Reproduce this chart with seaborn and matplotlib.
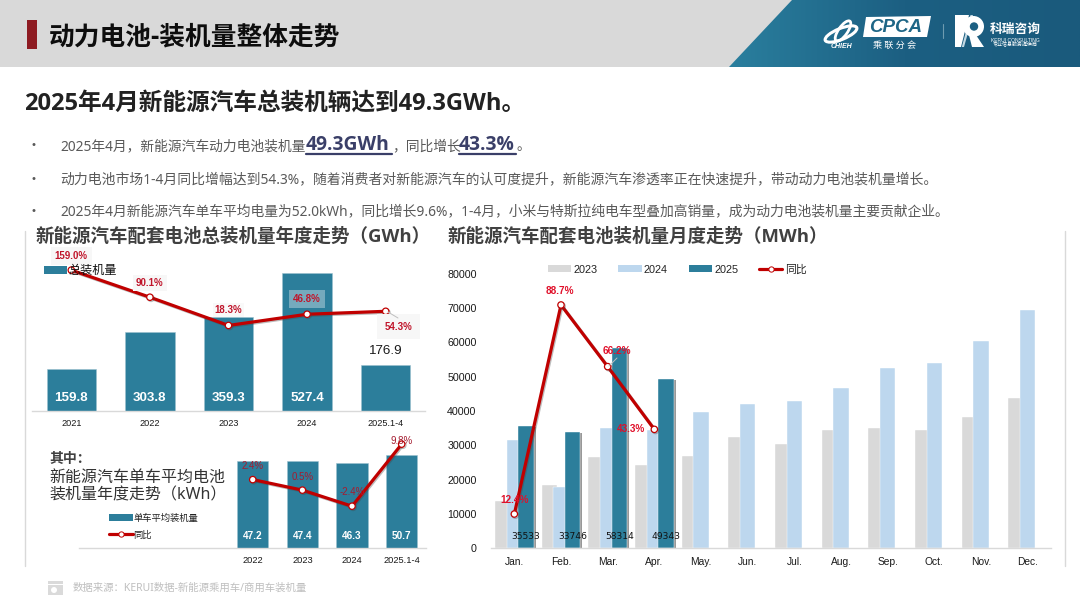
import numpy as np
import pandas as pd
import matplotlib
matplotlib.use("Agg")
import matplotlib.pyplot as plt
import matplotlib.patheffects as pe
from matplotlib.lines import Line2D
from matplotlib.patches import Patch, Polygon, Rectangle, Ellipse, Circle
import seaborn as sns

W, H = 1080, 599

# ---------- data ----------
year_cats = ["2021", "2022", "2023", "2024", "2025.1-4"]
year_install = [159.8, 303.8, 359.3, 527.4, 176.9]
year_yoy = [159.0, 90.1, 18.3, 46.8, 54.3]

kwh_cats = ["2022", "2023", "2024", "2025.1-4"]
kwh_values = [47.2, 47.4, 46.3, 50.7]
kwh_yoy = [2.4, 0.5, -2.4, 8.8]
kwh_yoy_labels = ["2.4%", "0.5%", "-2.4%", "9.8%"]

months = ["Jan.", "Feb.", "Mar.", "Apr.", "May.", "Jun.", "Jul.", "Aug.", "Sep.", "Oct.", "Nov.", "Dec."]
m2023 = [13700, 18300, 26700, 24300, 26900, 32500, 30300, 34400, 34900, 34400, 38200, 43900]
m2024 = [31500, 17800, 35000, 34500, 39800, 42000, 42800, 46800, 52500, 54000, 60300, 69500]
m2025 = [35533, 33746, 58314, 49343, np.nan, np.nan, np.nan, np.nan, np.nan, np.nan, np.nan, np.nan]
m_yoy = [12.4, 88.7, 66.2, 43.3]

# ---------- style ----------
sns.set_theme(style="white")
LATIN = ["Liberation Sans", "Noto Sans CJK SC", "DejaVu Sans"]
CJK = ["Noto Sans", "Noto Sans CJK SC", "DejaVu Sans"]
BOLD = ["Open Sans", "Noto Sans CJK SC", "DejaVu Sans"]
NARROW = ["Liberation Sans Narrow", "Liberation Sans"]
plt.rcParams["font.family"] = LATIN

TEAL = "#2C7E9B"
LBLUE = "#BDD7EE"
GREY = "#D9D9D9"
RED = "#C00000"
AXC = "#D9D9D9"

fig = plt.figure(figsize=(W / 100, H / 100), dpi=100, facecolor="white")


def axpx(l, t, r, b, **kw):
    return fig.add_axes([l / W, 1 - b / H, (r - l) / W, (b - t) / H], **kw)


def clean(ax, ticksize, pad):
    sns.despine(ax=ax, left=True)
    ax.spines["bottom"].set_color(AXC)
    ax.spines["bottom"].set_linewidth(1)
    ax.set_xlabel("")
    ax.set_ylabel("")
    ax.set_yticks([])
    ax.tick_params(axis="x", length=0, labelsize=ticksize, pad=pad, colors="#1a1a1a")
    ax.patch.set_alpha(0)


def trend(ax, yvals, ms=4.6):
    sns.lineplot(x=np.arange(len(yvals)), y=yvals, ax=ax, color=RED, linewidth=2.3,
                 marker="o", markersize=ms, markerfacecolor="white", markeredgecolor=RED,
                 markeredgewidth=0.9, errorbar=None, legend=False, sort=False)
    ax.lines[-1].set_path_effects([pe.SimpleLineShadow(offset=(0.8, -0.8), alpha=0.35, shadow_color="#444444"),
                                   pe.Normal()])
    ax.set_xlabel("")
    ax.set_ylabel("")
    ax.set_yticks([])
    ax.patch.set_alpha(0)
    for s in ax.spines.values():
        s.set_visible(False)


# ---------- page overlay ----------
bg = axpx(0, 0, W, H)
bg.set_xlim(0, W)
bg.set_ylim(H, 0)
bg.axis("off")
bg.set_zorder(0)
bg.add_patch(Rectangle((0, 0), W, 67, color="#D9D9D9", lw=0))
grad = np.linspace(0, 1, 256).reshape(1, -1)
cmap = matplotlib.colors.LinearSegmentedColormap.from_list("h", ["#2A7F9E", "#1C5F82", "#1A5A7C"])
im = bg.imshow(grad, extent=(729, 1080, 67, 0), aspect="auto", cmap=cmap, zorder=1)
clip = Polygon([(729, 67), (792, 0), (1080, 0), (1080, 67)], closed=True, transform=bg.transData, fc="none", ec="none")
bg.add_patch(clip)
im.set_clip_path(clip)
bg.set_xlim(0, W)
bg.set_ylim(H, 0)
bg.add_patch(Rectangle((27, 20), 9.5, 29, color="#8E1B22", lw=0))
bg.plot([24.5, 24.5], [231, 566], color="#D9D9D9", lw=1)
bg.plot([1065.3, 1065.3], [231, 566], color="#D9D9D9", lw=1)

top = axpx(0, 0, W, H)
top.set_xlim(0, W)
top.set_ylim(H, 0)
top.axis("off")
top.set_zorder(20)
top.patch.set_alpha(0)


def T(x, y, s, size, color="#000000", weight="normal", ha="left", family=CJK, **kw):
    return top.text(x, y + 1.5, s, fontsize=size, color=color, fontweight=weight, ha=ha, va="center", family=family, **kw)


T(49, 36, "动力电池-装机量整体走势", 18.5, "#0D0D0D", "bold", family=BOLD)
T(24, 102, "2025年4月新能源汽车总装机辆达到49.3GWh。", 17.05, "#222222", "bold", family=BOLD)

BODY = "#595959"
EMPH = "#3A3F68"
for y in (145, 178, 210):
    T(34, y - 1, "•", 8, BODY, ha="center", family=["Liberation Sans"])
T(60, 145, "2025年4月，新能源汽车动力电池装机量", 9.92, BODY)
T(306, 143, "49.3GWh", 13.9, EMPH, "bold", family=BOLD)
T(392, 145, "，同比增长", 9.92, BODY)
T(459, 143, "43.3%", 13.9, EMPH, "bold", family=BOLD)
T(516, 145, "。", 9.92, BODY)
top.plot([306, 392], [154, 154], color=EMPH, lw=1.6)
top.plot([459, 516], [154, 154], color=EMPH, lw=1.6)
T(60, 178, "动力电池市场1-4月同比增幅达到54.3%，随着消费者对新能源汽车的认可度提升，新能源汽车渗透率正在快速提升，带动动力电池装机量增长。", 9.97, BODY)
T(60, 210, "2025年4月新能源汽车单车平均电量为52.0kWh，同比增长9.6%，1-4月，小米与特斯拉纯电车型叠加高销量，成为动力电池装机量主要贡献企业。", 9.95, BODY)

T(36, 235, "新能源汽车配套电池总装机量年度走势（GWh）", 13.3, "#404040", "bold", family=BOLD)
T(448, 235, "新能源汽车配套电池装机量月度走势（MWh）", 13.3, "#404040", "bold", family=BOLD)

T(49, 457, "其中：", 10, "#404040", "bold", family=BOLD)
T(49, 476, "新能源汽车单车平均电池", 11.5, "#333333")
T(49, 494, "装机量年度走势（kWh）", 11.5, "#333333")

# footer
top.add_patch(Rectangle((48, 581), 15, 14, color="#DADADA", lw=0))
top.add_patch(Ellipse((54, 590), 6, 6, color="white", lw=0))
top.add_patch(Rectangle((48, 583.5), 15, 1, color="white", lw=0))
T(73, 586.5, "数据来源：KERUI数据-新能源乘用车/商用车装机量", 7.5, "#BFBFBF")

# logo
top.add_patch(Polygon([(866, 17), (931, 16), (927, 37), (863, 37)], closed=True, fc="white", ec="none"))
T(896, 26, "CPCA", 13.5, "#1E6686", "bold", ha="center", family=["Liberation Sans"], style="italic")
T(895, 43.5, "乘 联 分 会", 6.5, "white", ha="center")
top.add_patch(Ellipse((841, 34), 34, 11, angle=-22, fc="none", ec="white", lw=2.2))
top.add_patch(Ellipse((843, 31), 9, 24, angle=35, fc="none", ec="white", lw=2))
T(841, 44.5, "CHIEH", 5, "white", "bold", ha="center", family=["Liberation Sans"], style="italic")
top.plot([942.5, 942.5], [24, 38], color="#6E9BB0", lw=0.8)
top.add_patch(Polygon([(955, 15), (969, 15), (961, 47), (955, 47)], closed=True, fc="white", ec="none"))
top.add_patch(Polygon([(970.5, 15), (973, 15), (964, 47), (961.8, 47)], closed=True, fc="#C4D9E4", ec="none"))
top.add_patch(Circle((973.5, 26.5), 10.5, fc="white", ec="none"))
top.add_patch(Circle((974, 26.5), 4.2, fc="#1C6082", ec="none"))
top.add_patch(Polygon([(969, 35), (976, 35), (984, 47), (972, 47)], closed=True, fc="white", ec="none"))
T(1015, 28, "科瑞咨询", 9.2, "white", "bold", ha="center", family=BOLD)
T(1015, 38.5, "KERUI CONSULTING", 3.6, "white", ha="center", family=["Liberation Sans"])
T(1015, 43.5, "专业信息服务提供商", 3.6, "white", ha="center")

# ---------- annual chart ----------
a1 = axpx(32, 254, 425, 411.3)
a1.set_zorder(5)
sns.barplot(x=year_cats, y=year_install, ax=a1, color=TEAL, saturation=1, width=0.627,
            edgecolor="#9CC0CE", linewidth=0.4)
a1.set_ylim(0, 600)
clean(a1, 6.6, 5.5)
for i, v in enumerate(year_install[:4]):
    a1.annotate(f"{v}", (i, 0), xytext=(0, 9.7), textcoords="offset points", ha="center", va="center",
                color="white", fontsize=9.6, fontweight="bold")
a1.annotate(f"{year_install[4]}", (4, year_install[4]), xytext=(0, 10), textcoords="offset points", ha="center",
            va="center", color="#1a1a1a", fontsize=9.6)

a1b = a1.twinx()
a1b.set_zorder(6)
trend(a1b, year_yoy)
a1b.set_ylim(-200, 200)
a1.set_xlim(-0.5, 4.5)
a1b.set_xlim(-0.5, 4.5)
year_off = [(0, 10), (0, 10.5), (0, 11), (0, 11), (9, -11)]
year_bg = [("#F7F7F7", 1, 0.4), ("#F7F7F7", 1, 0.3), ("#F7F7F7", 0.7, 0.2), ("#FFFFFF", 0.35, 0.45), ("#F7F7F7", 1, 0.8)]
for i, v in enumerate(year_yoy):
    fc, al, pad = year_bg[i]
    a1b.annotate(f"{v:.1f}%", (i, v), xytext=year_off[i], textcoords="offset points", ha="center", va="center",
                 color="#C0142A", fontsize=7, family=NARROW, fontweight="bold",
                 bbox=dict(boxstyle=f"square,pad={pad}", fc=fc, ec="none", alpha=al), zorder=4)
top.plot([388, 398], [312, 318], color="#BFBFBF", lw=0.7)

leg1 = top.legend(handles=[Patch(fc=TEAL, ec="none", label="总装机量")], loc="center left",
                  bbox_to_anchor=(44 / W, 1 - 270.7 / H), bbox_transform=fig.transFigure, frameon=False,
                  prop={"family": CJK, "size": 8.7}, handlelength=1.9, handleheight=0.55,
                  handletextpad=0.15, borderpad=0, borderaxespad=0, labelcolor="#111111")
top.add_artist(leg1)

# ---------- kWh chart ----------
a2 = axpx(79, 437.5, 426.5, 548.3)
a2.set_zorder(5)
sns.barplot(x=kwh_cats, y=kwh_values, ax=a2, color=TEAL, saturation=1, width=0.63,
            edgecolor="#9CC0CE", linewidth=0.4)
a2.set_ylim(0, 60)
a2.set_xlim(-3.5, 3.5)
clean(a2, 6.7, 5.5)
for i, v in enumerate(kwh_values):
    a2.annotate(f"{v}", (i, 0), xytext=(0, 9), textcoords="offset points", ha="center", va="center",
                color="white", fontsize=7.2, fontweight="bold")
a2b = a2.twinx()
a2b.set_zorder(6)
trend(a2b, kwh_yoy)
a2b.set_ylim(-10, 10)
a2.set_xlim(-3.5, 3.5)
a2b.set_xlim(-3.5, 3.5)
kwh_off = [(0, 9.5), (0, 9.5), (0.5, 10), (0, 2.5)]
for i, v in enumerate(kwh_yoy):
    a2b.annotate(kwh_yoy_labels[i], (i, v), xytext=kwh_off[i], textcoords="offset points", ha="center", va="center",
                 color="#A51C30", fontsize=7, family=NARROW, zorder=4)
leg2 = top.legend(handles=[Patch(fc=TEAL, ec="none", label="单车平均装机量"),
                           Line2D([], [], color=RED, lw=2.3, marker="o", ms=3.8, mfc="white", mec=RED, mew=0.7,
                                  label="同比")],
                  loc="center left", bbox_to_anchor=(108.5 / W, 1 - 526.5 / H), bbox_transform=fig.transFigure,
                  frameon=False, prop={"family": CJK, "size": 6.7}, handlelength=2.6, handleheight=0.75,
                  handletextpad=0.1, borderpad=0, borderaxespad=0, labelspacing=0.85, labelcolor="#222222")
top.add_artist(leg2)

# ---------- monthly chart ----------
monthly = pd.DataFrame({
    "month": months * 3,
    "year": ["2023"] * 12 + ["2024"] * 12 + ["2025"] * 12,
    "value": m2023 + m2024 + m2025,
})
a3 = axpx(491, 274, 1051, 548)
a3.set_zorder(5)
sns.barplot(data=monthly, x="month", y="value", hue="year", ax=a3, order=months, hue_order=["2023", "2024", "2025"],
            palette=[GREY, LBLUE, TEAL], saturation=1, width=0.75, gap=-0.31, legend=False,
            edgecolor="white", linewidth=0.3)
a3.set_ylim(0, 80000)
clean(a3, 7.4, 6.5)
a3.set_yticks(np.arange(0, 80001, 10000))
a3.tick_params(axis="y", length=0, labelsize=7.7, pad=10.4, colors="#1a1a1a", left=False, labelleft=True)
for c, yr in zip(a3.containers, ["2023", "2024", "2025"]):
    if yr == "2025":
        for p in c.patches:
            p.set_path_effects([pe.SimplePatchShadow(offset=(1.5, -0.6), alpha=0.55, shadow_rgbFace="#444444"),
                                pe.Normal()])
for i, v in enumerate(m2025[:4]):
    a3.annotate(f"{v}", (i + 0.25, 0), xytext=(0, 8.6), textcoords="offset points", ha="center", va="center",
                color="#111111", fontsize=6.6, family=["DejaVu Sans"], zorder=8)
a3b = a3.twinx()
a3b.set_zorder(6)
trend(a3b, m_yoy)
a3b.set_ylim(0, 100)
a3.set_xlim(-0.5, 11.5)
a3b.set_xlim(-0.5, 11.5)
m_off = [(0, 10), (-0.5, 10), (6.3, 11.5), (-6.8, 0)]
for i, v in enumerate(m_yoy):
    a3b.annotate(f"{v:.1f}%", (i, v), xytext=m_off[i], textcoords="offset points", ha="center" if i != 3 else "right",
                 va="center", color="#E0102A", fontsize=7.2, fontweight="bold", zorder=4)
top.plot([609, 617], [366, 358], color="#BFBFBF", lw=0.7, zorder=9)
leg3 = top.legend(handles=[Patch(fc=GREY, ec="none", label="2023"),
                           Patch(fc=LBLUE, ec="none", label="2024"),
                           Patch(fc=TEAL, ec="none", label="2025"),
                           Line2D([], [], color=RED, lw=2.3, marker="o", ms=3.8, mfc="white", mec=RED, mew=0.7,
                                  label="同比")],
                  loc="center left", bbox_to_anchor=(548 / W, 1 - 269.5 / H), bbox_transform=fig.transFigure,
                  frameon=False, ncol=4, prop={"family": LATIN, "size": 7.8}, handlelength=2.13, handleheight=0.62,
                  handletextpad=0.2, columnspacing=1.95, borderpad=0, borderaxespad=0, labelcolor="#222222")

fig.savefig("out.png", dpi=100, facecolor="white")
